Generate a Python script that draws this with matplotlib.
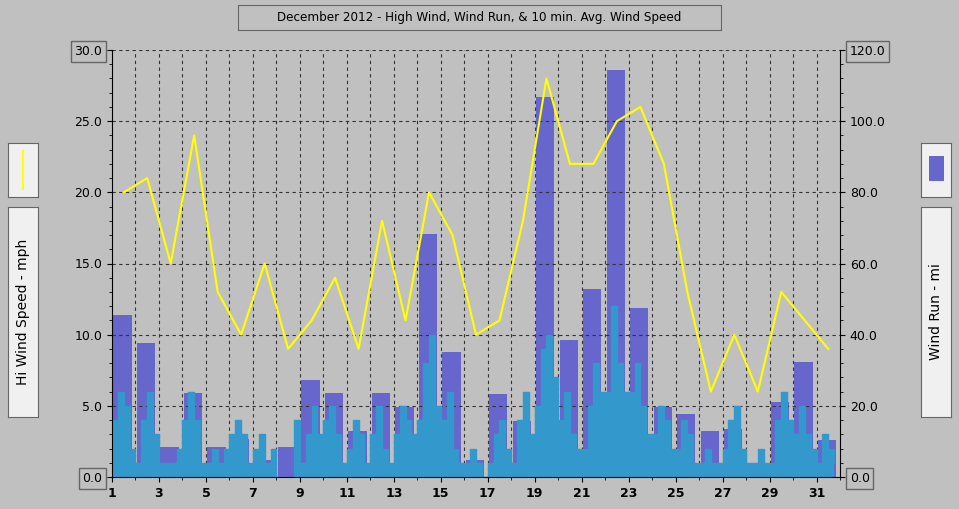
import matplotlib
matplotlib.use("Agg")
import matplotlib.pyplot as plt
import numpy as np

BG = "#C0C0C0"
BAR, LINE, AVG = "#6666CC", "#FFFF00", "#3399CC"

days = np.arange(1, 32)
# daily wind run (mi)
wind_run = [45.6, 37.6, 8.4, 23.6, 8.4, 10.8, 4.8, 8.4, 27.2, 23.6, 12.8, 23.6, 19.6,
            68.4, 35.2, 4.8, 23.2, 15.6, 106.8, 38.4, 52.8, 114.4, 47.6, 19.6, 17.6,
            12.8, 13.6, 0.8, 21.2, 32.4, 10.4]
# daily high wind (mph)
hi_wind = [20, 21, 15, 24, 13, 10, 15, 9, 11, 14, 9, 18, 11, 20, 17, 10, 11, 18, 28,
           22, 22, 25, 26, 22, 13, 6, 10, 6, 13, 11, 9]
# 10 min avg wind speed, read coarsely at quarter-day steps
avg_speed = [4, 6, 5, 2, 1, 4, 6, 3, 1, 1, 1, 2, 4, 6, 4, 1, 1, 2, 1, 2, 3, 4, 3, 1,
             2, 3, 1, 2, 0, 0, 0, 4, 1, 3, 5, 3, 4, 5, 3, 1, 2, 4, 3, 1, 3, 5, 2, 1,
             3, 5, 4, 3, 4, 8, 10, 5, 4, 6, 2, 1, 1, 2, 1, 0, 1, 3, 4, 2, 1, 4, 6, 3,
             5, 9, 10, 7, 4, 6, 3, 2, 2, 5, 8, 6, 6, 12, 8, 6, 6, 8, 5, 3, 3, 5, 4, 2,
             2, 4, 3, 1, 1, 2, 1, 1, 2, 4, 5, 2, 1, 1, 2, 1, 1, 4, 6, 4, 3, 5, 3, 2,
             1, 3, 2, 1]
avg_t = 1 + np.arange(len(avg_speed)) * 0.25

W, H = 959, 509
fig = plt.figure(figsize=(9.59, 5.09), dpi=100, facecolor=BG)


def px_axes(x0, y0, x1, y1, fc=BG):
    a = fig.add_axes([x0 / W, 1 - y1 / H, (x1 - x0) / W, (y1 - y0) / H], facecolor=fc)
    a.set_xlim(0, 1); a.set_ylim(0, 1); a.set_xticks([]); a.set_yticks([])
    for s in a.spines.values():
        s.set_color("#666666")
    return a


ax = fig.add_axes([112/W, 32/H, 728/W, 427/H], facecolor=BG)
ax2 = ax.twinx()

ax2.bar(days + 0.45, wind_run, width=0.78, color=BAR, zorder=1)
ax2.set_ylim(0, 120)
ax.set_zorder(ax2.get_zorder() + 1)
ax.patch.set_visible(False)

ax.fill_between(avg_t, avg_speed, step="post", color=AVG, lw=0, zorder=2)
ax.step(avg_t, avg_speed, where="post", color=AVG, lw=1, zorder=2)
ax.plot(days + 0.5, hi_wind, color=LINE, lw=1.5, zorder=3)

ax.set_xlim(1, 32)
ax.set_ylim(0, 30)
ax.set_xticks(range(1, 33, 2))
ax.set_xticks(range(1, 33), minor=True)
ax.set_yticks(np.arange(0, 31, 5))
ax.set_yticks(np.arange(0, 31, 1), minor=True)
ax.set_yticklabels([f"{v:.1f}" for v in np.arange(0, 31, 5)])
ax2.set_yticks(np.arange(0, 121, 20))
ax2.set_yticks(np.arange(0, 121, 4), minor=True)
ax2.set_yticklabels([f"{v:.1f}" for v in np.arange(0, 121, 20)])
ax.tick_params(axis="both", labelsize=9, colors="black")
ax2.tick_params(axis="y", labelsize=9, colors="black")
for lbl in ax.get_xticklabels():
    lbl.set_fontweight("bold")
box = dict(boxstyle="square,pad=0.3", fc=BG, ec="#666666")
for lbl in [ax.get_yticklabels()[0], ax.get_yticklabels()[-1],
            ax2.get_yticklabels()[0], ax2.get_yticklabels()[-1]]:
    lbl.set_bbox(box)

for y in range(5, 31, 5):
    ax.axhline(y, color="#333333", ls=(0, (3, 3)), lw=0.8, zorder=0)
for x in range(2, 32):
    ax.axvline(x, color="#333333", ls=(0, (3, 3)), lw=0.8, zorder=0)
for s in ax.spines.values():
    s.set_visible(False)
for s in ax2.spines.values():
    s.set_visible(False)
ax.spines["left"].set_visible(True)
ax.spines["bottom"].set_visible(True)
ax2.spines["right"].set_visible(True)

t = px_axes(238, 5, 721, 30)
t.text(0.5, 0.5, "December 2012 - High Wind, Wind Run, & 10 min. Avg. Wind Speed",
       ha="center", va="center", fontsize=9.5, stretch="condensed")

la = px_axes(8, 143, 38, 197, "#F0F0F0")
la.plot([0.5, 0.5], [0.15, 0.85], color=LINE, lw=1.5)
lt = px_axes(8, 207, 38, 417, "#F0F0F0")
lt.text(0.5, 0.5, "Hi Wind Speed - mph", rotation=90, ha="center", va="center", fontsize=10)

lb = px_axes(921, 143, 951, 197, "#F0F0F0")
lb.bar([0.5], [0.45], bottom=0.3, width=0.5, color=BAR)
lr = px_axes(921, 207, 951, 417, "#F0F0F0")
lr.text(0.5, 0.5, "Wind Run - mi", rotation=90, ha="center", va="center", fontsize=10)

fig.savefig("out.png", dpi=100, facecolor=BG)
